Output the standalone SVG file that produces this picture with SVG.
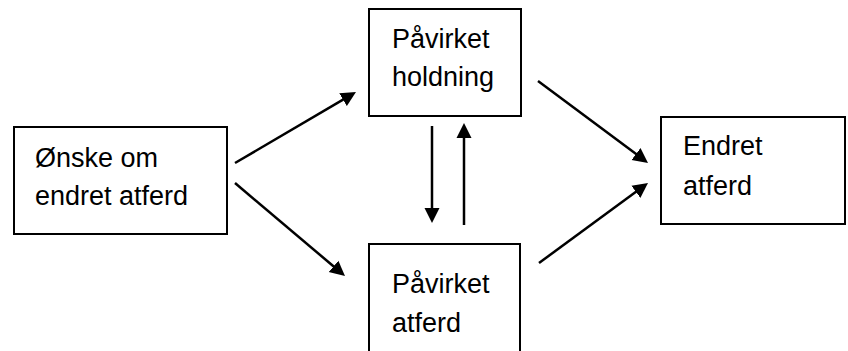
<svg xmlns="http://www.w3.org/2000/svg" width="848" height="351" viewBox="0 0 848 351">
  <style>
    .box { fill: #ffffff; stroke: #000000; stroke-width: 2; }
    .lbl { font-family: "Liberation Sans", Arial, sans-serif; font-size: 27px; fill: #000000; }
    .edge { fill: none; stroke: #000000; stroke-width: 2.5; marker-end: url(#head); }
  </style>
  <defs>
    <marker id="head" markerUnits="userSpaceOnUse" markerWidth="16" markerHeight="16" refX="1" refY="8" orient="auto" viewBox="0 0 16 16">
      <path d="M0,0.5 L15,8 L0,15.5 z" fill="#000000"/>
    </marker>
  </defs>
  <rect width="848" height="351" fill="#ffffff"/>

  <g id="onske">
    <rect class="box" x="14" y="127" width="213" height="107"/>
    <text class="lbl" x="35" y="167">Ønske om</text>
    <text class="lbl" x="35" y="205">endret atferd</text>
  </g>

  <g id="pavirket-holdning">
    <rect class="box" x="369" y="9" width="152" height="107"/>
    <text class="lbl" x="392" y="48">Påvirket</text>
    <text class="lbl" x="392" y="86">holdning</text>
  </g>

  <g id="pavirket-atferd">
    <rect class="box" x="369" y="244" width="151" height="120"/>
    <text class="lbl" x="392" y="293">Påvirket</text>
    <text class="lbl" x="392" y="332">atferd</text>
  </g>

  <g id="endret-atferd">
    <rect class="box" x="661" y="117" width="184" height="107"/>
    <text class="lbl" x="683" y="155">Endret</text>
    <text class="lbl" x="683" y="195">atferd</text>
  </g>

  <g id="connectors">
    <path class="edge" d="M235,163 L343.9,99.1"/>
    <path class="edge" d="M235,183 L334.3,267"/>
    <path class="edge" d="M432,126 L432,209"/>
    <path class="edge" d="M464,225 L464,137"/>
    <path class="edge" d="M538,81 L636.8,154.6"/>
    <path class="edge" d="M539,263 L636.7,191.3"/>
  </g>
</svg>
